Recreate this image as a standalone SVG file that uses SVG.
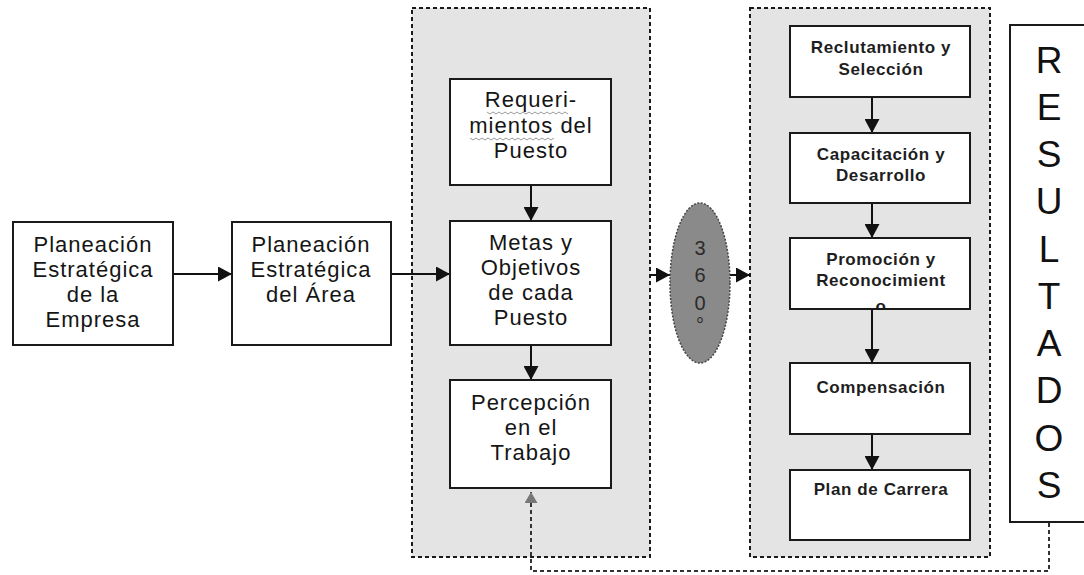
<svg xmlns="http://www.w3.org/2000/svg" width="1084" height="575" viewBox="0 0 1084 575">
<style>
.box{fill:#fff;stroke:#1a1a1a;stroke-width:2}
.cont{fill:#e4e4e4;stroke:#1a1a1a;stroke-width:2;stroke-dasharray:4 3}
.t{font-family:"Liberation Sans",Arial,sans-serif;font-size:22px;fill:#151515;text-anchor:middle;letter-spacing:1px}
.s{font-family:"Liberation Sans",Arial,sans-serif;font-size:17px;font-weight:bold;fill:#1e1e1e;text-anchor:middle;letter-spacing:0.6px}
.r{font-family:"Liberation Sans",Arial,sans-serif;font-size:37px;fill:#111;text-anchor:middle}
.e{font-family:"Liberation Sans",Arial,sans-serif;font-size:20px;fill:#2a2a2a;text-anchor:middle}
.c{fill:none;stroke:#111;stroke-width:2}
.fb{fill:none;stroke:#333;stroke-width:2;stroke-dasharray:4 3}
.sq{fill:none;stroke:#9a9a9a;stroke-width:1}
</style>
<defs>
<marker id="ah" markerUnits="userSpaceOnUse" markerWidth="15" markerHeight="15" refX="14" refY="7.5" orient="auto">
<path d="M0,0 L14,7.5 L0,15 z" fill="#111"/>
</marker>
<marker id="ahg" markerUnits="userSpaceOnUse" markerWidth="13" markerHeight="13" refX="11" refY="6.5" orient="auto">
<path d="M0,0 L11,6.5 L0,13 z" fill="#777"/>
</marker>
<clipPath id="promClip"><rect x="790" y="238" width="180" height="70"/></clipPath>
</defs>
<rect width="1084" height="575" fill="#fff"/>

<g id="containers">
<rect class="cont" x="412" y="8" width="238" height="549"/>
<rect class="cont" x="750" y="8" width="240" height="549"/>
</g>

<g id="connectors">
<path class="c" d="M173,274 H232" marker-end="url(#ah)"/>
<path class="c" d="M391,274 H450" marker-end="url(#ah)"/>
<path class="c" d="M531,185 V221" marker-end="url(#ah)"/>
<path class="c" d="M531,345 V380" marker-end="url(#ah)"/>
<path class="c" d="M650,275 H670" marker-end="url(#ah)"/>
<path class="c" d="M730,275 H750" marker-end="url(#ah)"/>
<path class="c" d="M872,97 V133" marker-end="url(#ah)"/>
<path class="c" d="M872,203 V238" marker-end="url(#ah)"/>
<path class="c" d="M872,309 V363" marker-end="url(#ah)"/>
<path class="c" d="M872,434 V470" marker-end="url(#ah)"/>
<path class="fb" d="M1049,523 V571 H531 V492" marker-end="url(#ahg)"/>
</g>

<g id="n-empresa">
<rect class="box" x="13" y="222" width="160" height="123"/>
<text class="t" x="93" y="252">Planeación</text>
<text class="t" x="93" y="277">Estratégica</text>
<text class="t" x="93" y="302">de la</text>
<text class="t" x="93" y="327">Empresa</text>
</g>

<g id="n-area">
<rect class="box" x="232" y="222" width="159" height="123"/>
<text class="t" x="311" y="252">Planeación</text>
<text class="t" x="311" y="277">Estratégica</text>
<text class="t" x="311" y="302">del Área</text>
</g>

<g id="n-requerimientos">
<rect class="box" x="450" y="79" width="161" height="106"/>
<text class="t" x="531" y="107">Requeri-</text>
<text class="t" x="531" y="133">mientos del</text>
<text class="t" x="531" y="158">Puesto</text>
<path class="sq" d="M487,112 l3,2 l3,-2 l3,2 l3,-2 l3,2 l3,-2 l3,2 l3,-2 l3,2 l3,-2 l3,2 l3,-2 l3,2 l3,-2 l3,2 l3,-2 l3,2 l3,-2 l3,2 l3,-2 l3,2 l3,-2 l3,2 l3,-2 l3,2 l3,-2 l3,2"/>
<path class="sq" d="M470,138 l3,2 l3,-2 l3,2 l3,-2 l3,2 l3,-2 l3,2 l3,-2 l3,2 l3,-2 l3,2 l3,-2 l3,2 l3,-2 l3,2 l3,-2 l3,2 l3,-2 l3,2 l3,-2 l3,2 l3,-2 l3,2 l3,-2 l3,2 l3,-2 l3,2 l3,-2"/>
</g>

<g id="n-metas">
<rect class="box" x="450" y="221" width="161" height="124"/>
<text class="t" x="531" y="250">Metas y</text>
<text class="t" x="531" y="275">Objetivos</text>
<text class="t" x="531" y="300">de cada</text>
<text class="t" x="531" y="325">Puesto</text>
</g>

<g id="n-percepcion">
<rect class="box" x="450" y="380" width="161" height="108"/>
<text class="t" x="531" y="410">Percepción</text>
<text class="t" x="531" y="435">en el</text>
<text class="t" x="531" y="460">Trabajo</text>
</g>

<g id="n-360">
<ellipse cx="700" cy="283" rx="30" ry="80" fill="#8a8a8a" stroke="#444" stroke-width="1.5" stroke-dasharray="2 1.5"/>
<text class="e" x="700" y="255">3</text>
<text class="e" x="700" y="282">6</text>
<text class="e" x="700" y="310">0</text>
<text class="e" x="700" y="332">°</text>
</g>

<g id="n-reclutamiento">
<rect class="box" x="790" y="26" width="180" height="71"/>
<text class="s" x="881" y="53">Reclutamiento y</text>
<text class="s" x="881" y="75">Selección</text>
</g>

<g id="n-capacitacion">
<rect class="box" x="790" y="133" width="180" height="70"/>
<text class="s" x="881" y="160">Capacitación y</text>
<text class="s" x="881" y="181">Desarrollo</text>
</g>

<g id="n-promocion">
<rect class="box" x="790" y="238" width="180" height="71"/>
<text class="s" x="881" y="265">Promoción y</text>
<text class="s" x="881" y="286">Reconocimient</text>
<text class="s" x="881" y="312" clip-path="url(#promClip)">o</text>
</g>

<g id="n-compensacion">
<rect class="box" x="790" y="363" width="180" height="71"/>
<text class="s" x="881" y="393">Compensación</text>
</g>

<g id="n-plan">
<rect class="box" x="790" y="470" width="180" height="70"/>
<text class="s" x="881" y="495">Plan de Carrera</text>
</g>

<g id="n-resultados">
<rect class="box" x="1010" y="25" width="90" height="497"/>
<text class="r" x="1049" y="73">R</text>
<text class="r" x="1049" y="120">E</text>
<text class="r" x="1049" y="167">S</text>
<text class="r" x="1049" y="214">U</text>
<text class="r" x="1049" y="262">L</text>
<text class="r" x="1049" y="309">T</text>
<text class="r" x="1049" y="356">A</text>
<text class="r" x="1049" y="403">D</text>
<text class="r" x="1049" y="451">O</text>
<text class="r" x="1049" y="498">S</text>
</g>
</svg>
